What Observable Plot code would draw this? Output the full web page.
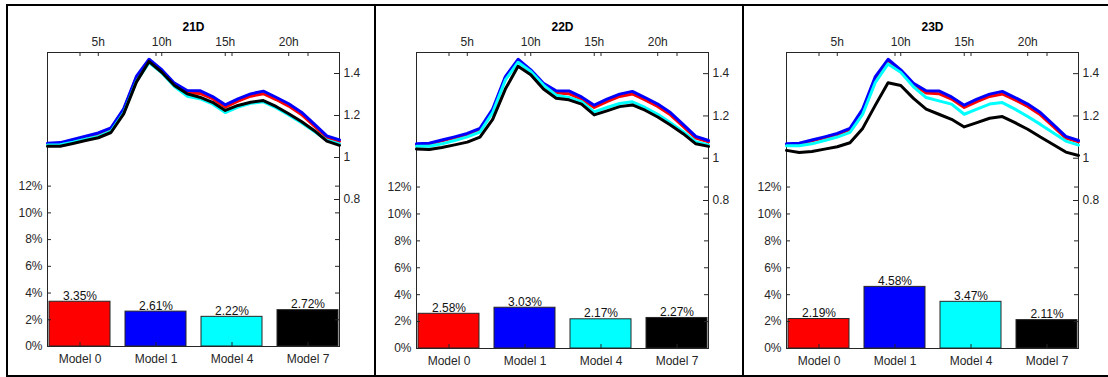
<!DOCTYPE html>
<html>
<head>
<meta charset="utf-8">
<script src="https://cdn.jsdelivr.net/npm/d3@7"></script>
<script src="https://cdn.jsdelivr.net/npm/@observablehq/plot@0.6"></script>
<style>
  body { margin: 0; background: #fff; font-family: "Liberation Sans", Arial, sans-serif; }
  #chart { position: relative; width: 1108px; height: 377px; overflow: hidden; }
  .panel { position: absolute; top: 0; width: 368px; height: 377px; }
  .panel svg { position: absolute; left: 0; top: 0; max-width: none; }
  .rule { position: absolute; background: #000; }
</style>
</head>
<body>
<div id="chart">
  <div class="rule" style="left:6px;top:4px;width:1102px;height:2px"></div>
  <div class="rule" style="left:6px;top:375px;width:1102px;height:2px"></div>
  <div class="rule" style="left:6px;top:4px;width:2px;height:373px"></div>
  <div class="rule" style="left:374px;top:4px;width:2px;height:373px"></div>
  <div class="rule" style="left:742px;top:4px;width:2px;height:373px"></div>
</div>
<script>
// Hours of the day (x of the load curves)
const hours = [1, 2, 3, 4, 5, 6, 7, 8, 9, 10, 11, 12, 13, 14, 15, 16, 17, 18, 19, 20, 21, 22, 23, 24];
const hourTicks = [5, 10, 15, 20];
const loadTicks = [0.8, 1, 1.2, 1.4];
const errorTicks = [0, 2, 4, 6, 8, 10, 12];

const models = ["Model 0", "Model 1", "Model 4", "Model 7"];
const modelColors = ["#ff0000", "#0000ff", "#00ffff", "#000000"];
const days = ["21D", "22D", "23D"];

// Normalised load curves per model
const model0Load = [1.064, 1.067, 1.082, 1.097, 1.112, 1.136, 1.226, 1.380, 1.463, 1.412, 1.347, 1.308, 1.305, 1.280, 1.240, 1.268, 1.292, 1.304, 1.276, 1.245, 1.205, 1.150, 1.095, 1.077];
const model1Load = [1.068, 1.071, 1.086, 1.101, 1.117, 1.141, 1.232, 1.386, 1.468, 1.418, 1.354, 1.319, 1.318, 1.290, 1.251, 1.279, 1.303, 1.316, 1.287, 1.256, 1.216, 1.160, 1.103, 1.084];

const model4Load21D = [1.060, 1.061, 1.073, 1.087, 1.100, 1.125, 1.212, 1.362, 1.452, 1.403, 1.338, 1.292, 1.280, 1.255, 1.214, 1.240, 1.258, 1.265, 1.237, 1.203, 1.166, 1.125, 1.082, 1.065];
const model7Load21D = [1.054, 1.054, 1.067, 1.081, 1.094, 1.119, 1.208, 1.359, 1.457, 1.406, 1.343, 1.303, 1.287, 1.263, 1.224, 1.248, 1.263, 1.271, 1.243, 1.208, 1.171, 1.129, 1.078, 1.058];

const model4Load22D = [1.057, 1.057, 1.068, 1.084, 1.101, 1.124, 1.216, 1.370, 1.454, 1.410, 1.346, 1.298, 1.287, 1.267, 1.219, 1.240, 1.259, 1.267, 1.240, 1.208, 1.168, 1.125, 1.078, 1.063];
const model7Load22D = [1.043, 1.041, 1.051, 1.063, 1.076, 1.100, 1.184, 1.327, 1.435, 1.395, 1.327, 1.284, 1.276, 1.256, 1.205, 1.224, 1.244, 1.252, 1.227, 1.195, 1.157, 1.116, 1.068, 1.056];

const model4Load23D = [1.059, 1.059, 1.068, 1.084, 1.100, 1.122, 1.208, 1.359, 1.446, 1.406, 1.338, 1.287, 1.271, 1.256, 1.208, 1.232, 1.256, 1.263, 1.232, 1.197, 1.160, 1.120, 1.081, 1.062];
const model7Load23D = [1.037, 1.027, 1.032, 1.043, 1.054, 1.073, 1.141, 1.251, 1.357, 1.344, 1.283, 1.232, 1.208, 1.184, 1.148, 1.168, 1.189, 1.197, 1.168, 1.137, 1.100, 1.065, 1.029, 1.013];

// Forecast error (%) per model
const error21D = [3.35, 2.61, 2.22, 2.72];
const error22D = [2.58, 3.03, 2.17, 2.27];
const error23D = [2.19, 4.58, 3.47, 2.11];

const panelData = [
  {day: days[0], loads: [model0Load, model1Load, model4Load21D, model7Load21D], errors: error21D},
  {day: days[1], loads: [model0Load, model1Load, model4Load22D, model7Load22D], errors: error22D},
  {day: days[2], loads: [model0Load, model1Load, model4Load23D, model7Load23D], errors: error23D}
];

const panelLeft = [7, 376, 746];
const W = 368, H = 377, mL = 40, mR = 36, mT = 52;
const ink = "#262626";
const baseStyle = {
  background: "transparent",
  fontFamily: "'Liberation Sans', Arial, sans-serif",
  fontSize: "12px",
  color: ink,
  overflow: "visible"
};

panelData.forEach((p, i) => {
  const mB = i === 0 ? 31 : 29;
  const innerW = W - mL - mR;
  const innerH = H - mT - mB;
  const dims = {width: W, height: H, marginLeft: mL, marginRight: mR, marginTop: mT, marginBottom: mB, style: baseStyle};
  const color = {domain: models, range: modelColors};

  // Error bars on the left (percent) axis
  const bars = models.map((m, k) => ({model: m, error: p.errors[k]}));
  const barPlot = Plot.plot({
    ...dims,
    x: {type: "band", domain: models, paddingInner: 0.2, paddingOuter: 0, label: null},
    y: {domain: [0, 22], label: null},
    color,
    marks: [
      Plot.barY(bars, {x: "model", y: "error", fill: "model", stroke: ink, strokeWidth: 1}),
      Plot.text(bars, {x: "model", y: "error", text: d => d.error.toFixed(2) + "%", lineAnchor: "bottom", dy: -2, fill: "#111"}),
      Plot.axisY({anchor: "left", ticks: errorTicks, tickSize: 0, tickPadding: 5, tickFormat: d => d + "%", label: null}),
      Plot.axisX({anchor: "bottom", tickSize: 0, tickPadding: 8, label: null}),
      Plot.tickY(errorTicks, {y: d => d, insetRight: innerW - 4, stroke: ink}),
      Plot.tickY(errorTicks, {y: d => d, insetLeft: innerW - 4, stroke: ink}),
      Plot.tickX(models, {x: d => d, insetTop: innerH - 4, stroke: ink}),
      Plot.tickX(models, {x: d => d, insetBottom: innerH - 4, stroke: ink}),
      Plot.frame({stroke: ink})
    ]
  });

  // Hourly load curves on the right axis, hours along the top
  const series = models.flatMap((m, k) => hours.map((h, j) => ({model: m, hour: h, load: p.loads[k][j]})));
  const linePlot = Plot.plot({
    ...dims,
    x: {domain: [1, 24], label: null},
    y: {domain: [0.1, 1.5], label: null},
    color,
    marks: [
      Plot.line(series, {x: "hour", y: "load", z: "model", stroke: "model", strokeWidth: 3}),
      Plot.axisX({anchor: "top", ticks: hourTicks, tickSize: 0, tickPadding: 7, tickFormat: d => d + "h", label: null}),
      Plot.axisY({anchor: "right", ticks: loadTicks, tickSize: 0, tickPadding: 4, tickFormat: d => String(d), label: null}),
      Plot.tickX(hourTicks, {x: d => d, insetBottom: innerH - 4, stroke: ink}),
      Plot.tickY(loadTicks, {y: d => d, insetLeft: innerW - 5, stroke: ink}),
      Plot.text([p.day], {text: d => d, frameAnchor: "top", dy: -30, fontWeight: "bold", fill: "#000"})
    ]
  });

  const div = document.createElement("div");
  div.className = "panel";
  div.style.left = panelLeft[i] + "px";
  div.appendChild(barPlot);
  div.appendChild(linePlot);
  document.getElementById("chart").appendChild(div);
});
</script>
</body>
</html>
